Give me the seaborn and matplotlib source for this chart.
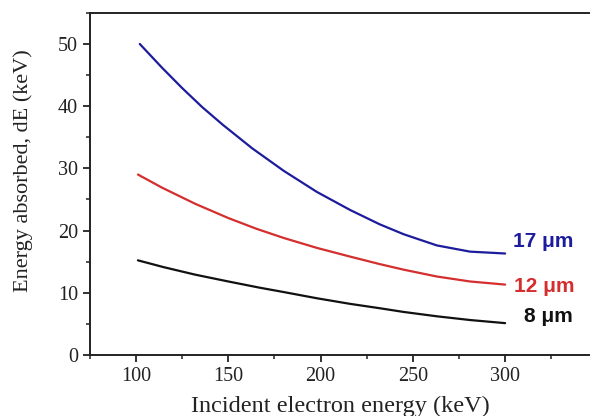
import pandas as pd
import matplotlib
matplotlib.use('Agg')
import matplotlib.pyplot as plt
from matplotlib.ticker import MultipleLocator
import seaborn as sns

# values
energy_17um = [102, 114, 125, 136, 147, 163, 180, 198, 216, 232, 245, 263, 281, 300]
de_17um = [50.0, 46.2, 42.9, 39.8, 37.0, 33.2, 29.6, 26.2, 23.3, 21.0, 19.4, 17.6, 16.6, 16.3]
energy_12um = [101, 114, 132, 150, 165, 180, 198, 216, 232, 245, 263, 281, 300]
de_12um = [29.0, 26.9, 24.3, 22.0, 20.3, 18.8, 17.2, 15.8, 14.6, 13.7, 12.6, 11.8, 11.3]
energy_8um = [101, 115, 132, 150, 167, 180, 198, 216, 232, 245, 263, 281, 300]
de_8um = [15.2, 14.1, 12.9, 11.8, 10.8, 10.1, 9.1, 8.2, 7.5, 6.9, 6.2, 5.6, 5.1]

thickness = ['17 \u03bcm', '12 \u03bcm', '8 \u03bcm']
colors = ['#1c1c9c', '#d42e2e', '#111111']
label_x = [304, 305, 310]
label_y = [17.4, 10.1, 5.3]


def make_plot():
    sns.set_style('ticks')
    plt.rcParams['font.family'] = ['Liberation Serif', 'DejaVu Serif']
    rows = []
    series = [(energy_17um, de_17um), (energy_12um, de_12um), (energy_8um, de_8um)]
    for name, (xs, ys) in zip(thickness, series):
        for e, v in zip(xs, ys):
            rows.append({'energy': e, 'dE': v, 'thickness': name})
    df = pd.DataFrame(rows)

    fig = plt.figure(figsize=(5.9, 4.16), dpi=100)
    ax = fig.add_axes([0.1525, 0.147, 0.8475, 0.822])
    sns.lineplot(data=df, x='energy', y='dE', hue='thickness', palette=colors,
                 linewidth=1.6, ax=ax, legend=False)

    ax.set_xlim(75, 346)
    ax.set_ylim(0, 55)
    ax.xaxis.set_minor_locator(MultipleLocator(25))
    ax.yaxis.set_major_locator(MultipleLocator(10))
    ax.yaxis.set_minor_locator(MultipleLocator(5))
    ax.set_xticks([100, 150, 200, 250, 300])
    ax.tick_params(which='major', direction='out', length=5, width=1.3, labelsize=14.5, colors='#222222')
    ax.tick_params(which='minor', direction='out', length=3, width=1.1, colors='#222222')
    for side in ['left', 'bottom', 'top']:
        ax.spines[side].set_visible(True)
        ax.spines[side].set_linewidth(1.4)
        ax.spines[side].set_color('#222222')
    ax.spines['right'].set_visible(False)

    ax.set_xlabel('Incident electron energy (keV)', fontsize=17.5, color='#222222', labelpad=7)
    ax.set_ylabel('Energy absorbed, dE (keV)', fontsize=16, color='#222222')
    ax.yaxis.set_label_coords(-0.114, 0.54)

    for name, col, xv, yv in zip(thickness, colors, label_x, label_y):
        ax.text(xv, yv, name, color=col, fontsize=15, fontweight='bold',
                family=['Liberation Sans', 'DejaVu Sans'], va='baseline', ha='left')

    fig.savefig('out.png', dpi=100)
    plt.close(fig)


if __name__ == '__main__':
    make_plot()
